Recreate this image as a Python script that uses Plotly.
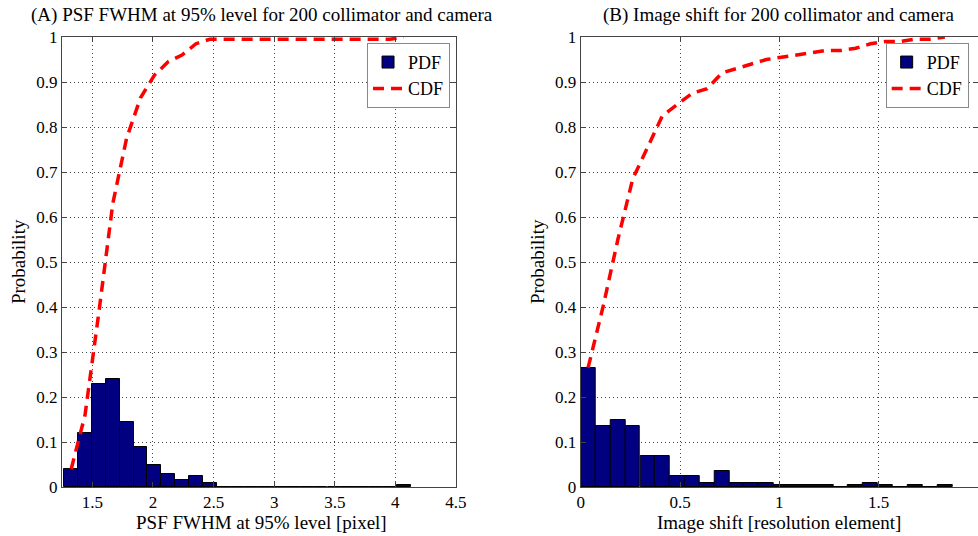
import numpy as np
import plotly.graph_objects as go

# ---------------- data ----------------
left_centers = [1.326, 1.440, 1.555, 1.669, 1.783, 1.898, 2.012, 2.126, 2.240, 2.355,
                2.469, 2.583, 2.698, 2.812, 2.926, 3.041, 3.155, 3.269, 3.383, 3.498,
                3.612, 3.726, 3.840, 3.955, 4.069]
left_width = 0.1143
left_pdf = [0.04, 0.12, 0.23, 0.24, 0.145, 0.09, 0.05, 0.03, 0.015, 0.025,
            0.01, 0, 0, 0, 0, 0, 0, 0, 0, 0,
            0, 0, 0, 0, 0.005]

right_centers = [0.037, 0.112, 0.187, 0.262, 0.337, 0.411, 0.486, 0.561, 0.636, 0.711,
                 0.785, 0.860, 0.935, 1.010, 1.085, 1.159, 1.234, 1.309, 1.384, 1.459,
                 1.533, 1.608, 1.683, 1.758, 1.833]
right_width = 0.0748
right_pdf = [0.265, 0.135, 0.15, 0.135, 0.07, 0.07, 0.025, 0.025, 0.01, 0.035,
             0.01, 0.01, 0.01, 0.005, 0.005, 0.005, 0.005, 0, 0.005, 0.01,
             0.005, 0, 0.005, 0, 0.005]

left_cdf = np.cumsum(left_pdf)
right_cdf = np.cumsum(right_pdf)

left_xticks = [1.5, 2, 2.5, 3, 3.5, 4, 4.5]
left_xticklabels = ["1.5", "2", "2.5", "3", "3.5", "4", "4.5"]
right_xticks = [0, 0.5, 1, 1.5, 2]
right_xticklabels = ["0", "0.5", "1", "1.5", "2"]
yticks = [0, 0.1, 0.2, 0.3, 0.4, 0.5, 0.6, 0.7, 0.8, 0.9, 1]
yticklabels = ["0", "0.1", "0.2", "0.3", "0.4", "0.5", "0.6", "0.7", "0.8", "0.9", "1"]

title_left = "(A) PSF FWHM at 95% level for 200 collimator and camera"
title_right = "(B) Image shift for 200 collimator and camera"
xlabel_left = "PSF FWHM at 95% level [pixel]"
xlabel_right = "Image shift [resolution element]"
ylabel = "Probability"

# ---------------- style ----------------
FONT = "Liberation Serif"
BAR_COLOR = "#000080"
LINE_COLOR = "#ff0000"
DASH = "11px,7px"
AX_COLOR = "#444444"
GRID_COLOR = "#444444"

fig = go.Figure()

fig.add_trace(go.Bar(
    x=left_centers, y=left_pdf, width=left_width, name="PDF",
    marker=dict(color=BAR_COLOR, line=dict(color="black", width=1)),
    xaxis="x", yaxis="y", legend="legend"))
fig.add_trace(go.Scatter(
    x=left_centers, y=left_cdf, mode="lines", name="CDF",
    line=dict(color=LINE_COLOR, width=3.5, dash=DASH),
    xaxis="x", yaxis="y", legend="legend"))

fig.add_trace(go.Bar(
    x=right_centers, y=right_pdf, width=right_width, name="PDF",
    marker=dict(color=BAR_COLOR, line=dict(color="black", width=1)),
    xaxis="x2", yaxis="y2", legend="legend2"))
fig.add_trace(go.Scatter(
    x=right_centers, y=right_cdf, mode="lines", name="CDF",
    line=dict(color=LINE_COLOR, width=3.5, dash=DASH),
    xaxis="x2", yaxis="y2", legend="legend2"))

common_axis = dict(
    showline=True, linecolor=AX_COLOR, linewidth=1, mirror="ticks",
    ticks="inside", ticklen=5, tickcolor=AX_COLOR,
    showgrid=True, gridcolor=GRID_COLOR, griddash="1px,3px", gridwidth=1,
    zeroline=False, automargin=False,
    tickfont=dict(family=FONT, size=17, color="black"),
)

legend_common = dict(
    font=dict(family=FONT, size=18, color="black"),
    bordercolor="#888888", borderwidth=1, bgcolor="white",
    xanchor="right", yanchor="top", tracegroupgap=0,
)

fig.update_layout(
    width=978, height=536, autosize=False,
    margin=dict(l=62, r=0, t=37, b=49, autoexpand=False),
    paper_bgcolor="white", plot_bgcolor="white",
    barmode="overlay", bargap=0,
    font=dict(family=FONT, size=17, color="black"),
    xaxis=dict(domain=[0, 0.4301], range=[1.25, 4.5], tickvals=left_xticks,
               ticktext=left_xticklabels, anchor="y", **common_axis),
    yaxis=dict(domain=[0, 1], range=[0, 1], tickvals=yticks, ticktext=yticklabels,
               anchor="x", **common_axis),
    xaxis2=dict(domain=[0.5663, 1], range=[0, 2], tickvals=right_xticks,
                ticktext=right_xticklabels, anchor="y2", **common_axis),
    yaxis2=dict(domain=[0, 1], range=[0, 1], tickvals=yticks, ticktext=yticklabels,
                anchor="x2", **common_axis),
    legend=dict(x=0.4236, y=0.987, **legend_common),
    legend2=dict(x=0.9898, y=0.987, **legend_common),
    showlegend=True,
)

ann_font = dict(family=FONT, size=19, color="black")
annotations = [
    dict(text=title_left, x=0.2178, y=1.049, xref="paper", yref="paper",
         xanchor="center", yanchor="middle", showarrow=False, font=ann_font),
    dict(text=title_right, x=0.7817, y=1.049, xref="paper", yref="paper",
         xanchor="center", yanchor="middle", showarrow=False, font=ann_font),
    dict(text=xlabel_left, x=0.2178, y=-0.0778, xref="paper", yref="paper",
         xanchor="center", yanchor="middle", showarrow=False, font=ann_font),
    dict(text=xlabel_right, x=0.7831, y=-0.0778, xref="paper", yref="paper",
         xanchor="center", yanchor="middle", showarrow=False, font=ann_font),
    dict(text=ylabel, x=-0.048, y=0.5, xref="paper", yref="paper", textangle=-90,
         xanchor="center", yanchor="middle", showarrow=False, font=ann_font),
    dict(text=ylabel, x=0.5186, y=0.5, xref="paper", yref="paper", textangle=-90,
         xanchor="center", yanchor="middle", showarrow=False, font=ann_font),
]
fig.update_layout(annotations=annotations)

# Remove the default 8px page margin so the 978x536 figure fills the window.
post = ("document.body.style.margin='0';"
        "document.body.style.overflow='hidden';"
        "document.documentElement.style.overflow='hidden';")

fig.write_html("out.html", post_script=post,
               config={"displayModeBar": False, "responsive": False})
